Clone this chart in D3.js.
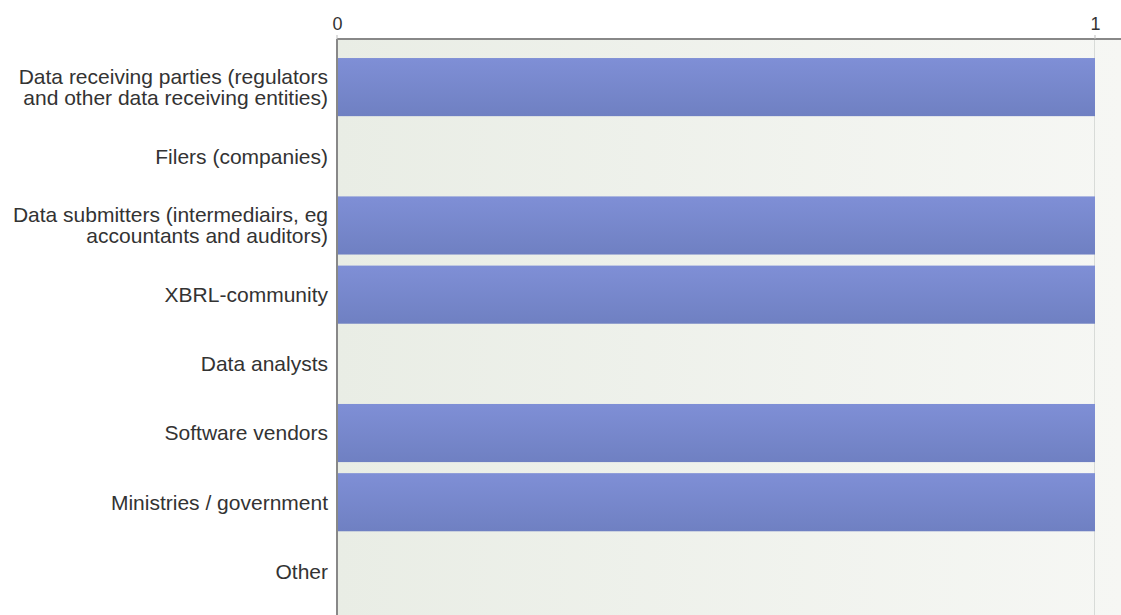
<!DOCTYPE html>
<html>
<head>
<meta charset="utf-8">
<script src="https://cdn.jsdelivr.net/npm/d3@7"></script>
<style>
  body { margin: 0; background: #fff; }
  text { font-family: "Liberation Sans", Arial, sans-serif; }
</style>
</head>
<body>
<svg width="1121" height="615"></svg>
<script>
// categories and values
var categories = [
  ["Data receiving parties (regulators", "and other data receiving entities)"],
  ["Filers (companies)"],
  ["Data submitters (intermediairs, eg", "accountants and auditors)"],
  ["XBRL-community"],
  ["Data analysts"],
  ["Software vendors"],
  ["Ministries / government"],
  ["Other"]
];
var values = [1, 0, 1, 1, 0, 1, 1, 0];
var xTicks = [0, 1];

var svg = d3.select("svg");
var width = +svg.attr("width"), height = +svg.attr("height");
var plotLeft = 337, plotTop = 39;

var x = d3.scaleLinear().domain([0, 1]).range([plotLeft, 1095]);
var y = d3.scaleBand()
  .domain(d3.range(categories.length))
  .range([52.5, 606])
  .paddingInner(0.16)
  .paddingOuter(0.08);

var defs = svg.append("defs");
var bg = defs.append("linearGradient").attr("id", "bg").attr("x1", 0).attr("x2", 1).attr("y1", 0).attr("y2", 0);
bg.append("stop").attr("offset", "0%").attr("stop-color", "#e9ede5");
bg.append("stop").attr("offset", "100%").attr("stop-color", "#f6f7f4");

var barGrad = defs.append("linearGradient").attr("id", "bar").attr("x1", 0).attr("x2", 0).attr("y1", 0).attr("y2", 1);
barGrad.append("stop").attr("offset", "0%").attr("stop-color", "#7f8fd6");
barGrad.append("stop").attr("offset", "100%").attr("stop-color", "#6f80c2");

// plot background
svg.append("rect")
  .attr("x", plotLeft).attr("y", plotTop)
  .attr("width", width - plotLeft).attr("height", height - plotTop)
  .attr("fill", "url(#bg)");

// grid lines
svg.append("g").selectAll("line")
  .data(xTicks.filter(function(d) { return d > 0; }))
  .enter().append("line")
  .attr("x1", function(d) { return x(d) - 0.5; }).attr("x2", function(d) { return x(d) - 0.5; })
  .attr("y1", plotTop).attr("y2", height)
  .attr("stroke", "#d8dbd8").attr("stroke-width", 1);

// bars
svg.append("g").selectAll("rect")
  .data(values)
  .enter().append("rect")
  .attr("x", x(0))
  .attr("y", function(d, i) { return y(i); })
  .attr("width", function(d) { return x(d) - x(0); })
  .attr("height", y.bandwidth())
  .attr("fill", "url(#bar)");

// top axis
var xAxis = svg.append("g")
  .attr("transform", "translate(0," + plotTop + ")")
  .call(d3.axisTop(x).tickValues(xTicks).tickFormat(d3.format("d")).tickSize(4).tickSizeOuter(0));
xAxis.select(".domain").attr("stroke", "#888").attr("stroke-width", 2).attr("d", "M" + plotLeft + ",0H" + width);
xAxis.selectAll(".tick line").attr("stroke", "#bbb").attr("transform", "translate(-0.5,0)");
xAxis.selectAll(".tick text").attr("font-size", 18).attr("fill", "#333").attr("dy", "-0.1em")
  .style("font-family", "Liberation Sans, Arial, sans-serif");

// left axis line
svg.append("line")
  .attr("x1", plotLeft).attr("x2", plotLeft).attr("y1", plotTop).attr("y2", height)
  .attr("stroke", "#888").attr("stroke-width", 2);

// category labels
var labels = svg.append("g").selectAll("text")
  .data(categories)
  .enter().append("text")
  .attr("text-anchor", "end")
  .attr("font-size", 21)
  .attr("fill", "#333")
  .attr("y", function(d, i) { return y(i) + y.bandwidth() / 2; });

labels.selectAll("tspan")
  .data(function(d) { return d; })
  .enter().append("tspan")
  .attr("x", 328)
  .attr("dy", function(t, j, nodes) {
    var n = nodes.length;
    if (j === 0) return (0.35 - (n - 1) * 0.5) + "em";
    return "1em";
  })
  .text(function(t) { return t; });
</script>
</body>
</html>
